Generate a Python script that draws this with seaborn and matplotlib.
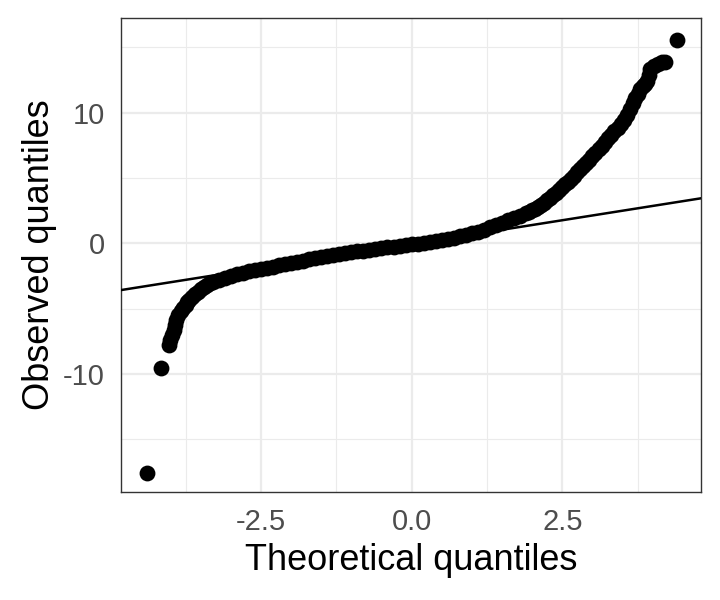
import numpy as np
import pandas as pd
import matplotlib
matplotlib.use("Agg")
import matplotlib.pyplot as plt
import seaborn as sns
from matplotlib.ticker import FixedLocator

# quantile points (theoretical, observed)
theo_left_tail = [-4.39, -4.15, -4.03, -4.00, -3.97, -3.94, -3.92, -3.90, -3.87, -3.83, -3.79, -3.75, -3.72]
obs_left_tail = [-17.56, -9.52, -7.75, -7.40, -7.05, -6.60, -6.25, -5.90, -5.50, -5.20, -4.95, -4.72, -4.52]

theo_body = [-3.70, -3.65, -3.60, -3.55, -3.50, -3.45, -3.40, -3.35, -3.30, -3.20,
             -3.10, -3.00, -2.90, -2.80, -2.70, -2.60, -2.50, -2.40, -2.30, -2.20,
             -2.10, -2.00, -1.90, -1.80, -1.70, -1.60, -1.50, -1.40, -1.30, -1.20,
             -1.10, -1.00, -0.90, -0.80, -0.70, -0.60, -0.50, -0.40, -0.30, -0.20,
             -0.10, 0.00, 0.10, 0.20, 0.30, 0.40, 0.50, 0.60, 0.70, 0.80,
             0.90, 1.00, 1.10, 1.20, 1.30, 1.40, 1.50, 1.60, 1.70, 1.80,
             1.90, 2.00, 2.10, 2.20, 2.30, 2.40, 2.50, 2.60, 2.70, 2.80,
             2.90, 3.00, 3.10, 3.20, 3.30]
obs_body = [-4.35, -4.10, -3.88, -3.70, -3.50, -3.32, -3.18, -3.05, -2.95, -2.78,
            -2.63, -2.50, -2.36, -2.25, -2.15, -2.05, -1.96, -1.87, -1.78, -1.68,
            -1.59, -1.50, -1.41, -1.32, -1.23, -1.14, -1.05, -0.97, -0.89, -0.82,
            -0.75, -0.68, -0.62, -0.56, -0.50, -0.44, -0.38, -0.32, -0.26, -0.20,
            -0.14, -0.08, -0.02, 0.05, 0.12, 0.19, 0.26, 0.34, 0.43, 0.53,
            0.64, 0.76, 0.90, 1.05, 1.22, 1.40, 1.58, 1.76, 1.94, 2.12,
            2.31, 2.52, 2.80, 3.12, 3.47, 3.86, 4.28, 4.72, 5.18, 5.66,
            6.15, 6.65, 7.20, 7.75, 8.30]

# extra points where the curve climbs steeply
theo_steep = [1.95, 2.05, 2.15, 2.25, 2.35, 2.45, 2.55, 2.65, 2.75, 2.85, 2.95, 3.05, 3.15, 3.25]
obs_steep = [2.41, 2.65, 2.95, 3.29, 3.66, 4.07, 4.50, 4.95, 5.42, 5.90, 6.40, 6.92, 7.47, 8.02]

theo_right_tail = [3.36, 3.42, 3.47, 3.52, 3.58, 3.63, 3.67, 3.71, 3.75, 3.79,
                   3.83, 3.87, 3.91, 3.93, 3.96, 4.02, 4.08, 4.15, 4.20, 4.40]
obs_right_tail = [8.60, 8.85, 9.10, 9.40, 9.80, 10.25, 10.70, 11.10, 11.40, 11.80,
                  12.05, 12.20, 12.40, 12.90, 13.30, 13.60, 13.75, 13.85, 13.90, 15.55]

# reference line
line_intercept = -0.06
line_slope = 0.73

df = pd.DataFrame({
    "theoretical": theo_left_tail + theo_body + theo_steep + theo_right_tail,
    "observed": obs_left_tail + obs_body + obs_steep + obs_right_tail,
})

sns.set_style("white")
plt.rcParams["font.family"] = ["Liberation Sans", "DejaVu Sans"]

fig = plt.figure(figsize=(7.2, 6), dpi=100)
ax = fig.add_axes([121 / 720, 1 - 492 / 600, 580 / 720, 474 / 600])

# grid like theme_bw
ax.set_axisbelow(True)
ax.grid(which="major", color="#EBEBEB", linewidth=1.6)
ax.grid(which="minor", color="#EBEBEB", linewidth=0.8)

sns.scatterplot(data=df, x="theoretical", y="observed", ax=ax,
                color="black", s=130, linewidth=0, zorder=3)
ax.axline((0, line_intercept), slope=line_slope, color="black", linewidth=1.8, zorder=4)

ax.set_xlim(-4.82, 4.80)
ax.set_ylim(-19.03, 17.24)
ax.xaxis.set_major_locator(FixedLocator([-2.5, 0.0, 2.5]))
ax.xaxis.set_minor_locator(FixedLocator([-3.75, -1.25, 1.25, 3.75]))
ax.yaxis.set_major_locator(FixedLocator([-10, 0, 10]))
ax.yaxis.set_minor_locator(FixedLocator([-15, -5, 5, 15]))
ax.set_xticklabels(["-2.5", "0.0", "2.5"])
ax.set_yticklabels(["-10", "0", "10"])

ax.tick_params(which="major", length=3.6, width=1.3, color="#333333",
               labelsize=21, labelcolor="#4D4D4D", pad=8)
ax.tick_params(which="minor", length=0)

for sp in ax.spines.values():
    sp.set_color("#333333")
    sp.set_linewidth(1.0)

ax.set_xlabel("Theoretical quantiles", fontsize=26, color="black", labelpad=5)
ax.set_ylabel("Observed quantiles", fontsize=26, color="black", labelpad=4)

fig.savefig("out.png", dpi=100)
